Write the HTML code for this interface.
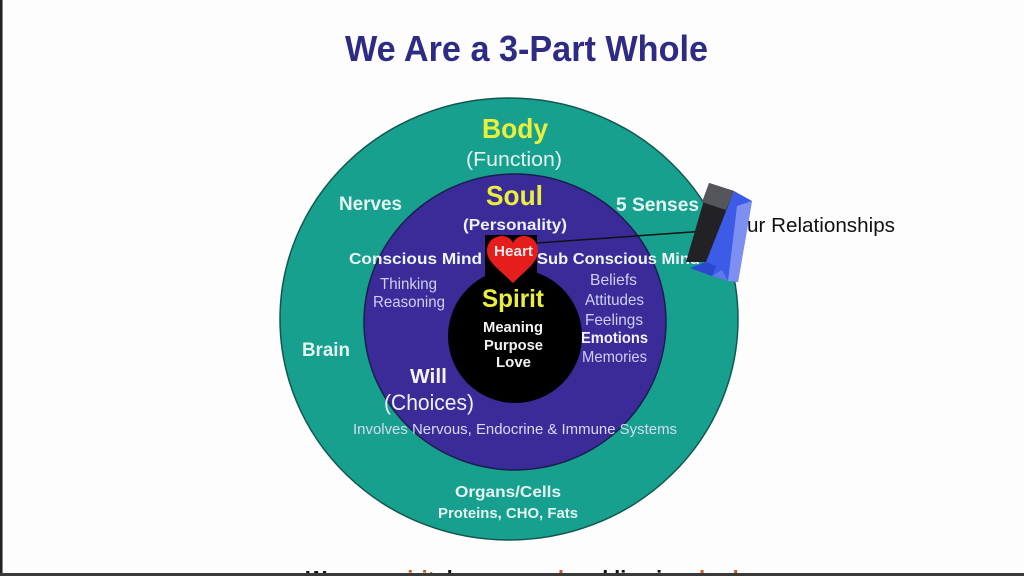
<!DOCTYPE html>
<html>
<head>
<meta charset="utf-8">
<style>
  html,body{margin:0;padding:0;background:#fdfdfd;}
  body{width:1024px;height:576px;overflow:hidden;position:relative;}
  svg{position:absolute;left:0;top:0;}
  text{font-family:"Liberation Sans", Arial, sans-serif;}
</style>
</head>
<body>
<svg width="1024" height="576" viewBox="0 0 1024 576" xmlns="http://www.w3.org/2000/svg">
  <rect x="0" y="0" width="1024" height="576" fill="#fdfdfd"/>
  <rect x="0" y="0" width="2" height="576" fill="#222"/>
  <rect x="2" y="0" width="1" height="576" fill="#888"/>

  <!-- Title -->
  <text x="345" y="61" font-size="36" font-weight="bold" fill="#2e2b85" textLength="363" lengthAdjust="spacingAndGlyphs">We Are a 3-Part Whole</text>

  <!-- Circles -->
  <ellipse cx="509" cy="319" rx="229" ry="221" fill="#17a08e" stroke="#12574f" stroke-width="1.5"/>
  <ellipse cx="515" cy="322" rx="151" ry="148" fill="#3a2b98" stroke="#1b1d4f" stroke-width="1.5"/>
  <circle cx="515" cy="336" r="67" fill="#000"/>
  <rect x="485" y="235" width="52" height="45" fill="#000"/>

  <!-- Heart -->
  <path d="M513,283 C500,270 487,262 487,251 C487,241 495,236 502,236 C508,236 512,240 513,243 C514,240 518,236 524,236 C531,236 538,241 538,251 C538,262 526,270 513,283 Z" fill="#e61d1d"/>
  <text x="494" y="256" font-size="15" font-weight="bold" fill="#f6e8e8" textLength="39" lengthAdjust="spacingAndGlyphs">Heart</text>

  <!-- Body labels -->
  <text x="482" y="138" font-size="28" font-weight="bold" fill="#e9ef3a" textLength="66" lengthAdjust="spacingAndGlyphs">Body</text>
  <text x="466" y="166" font-size="20" fill="#e4f4f1" textLength="96" lengthAdjust="spacingAndGlyphs">(Function)</text>
  <text x="339" y="210" font-size="19" font-weight="bold" fill="#e4f4f1" textLength="63" lengthAdjust="spacingAndGlyphs">Nerves</text>
  <text x="616" y="211" font-size="19" font-weight="bold" fill="#e4f4f1" textLength="83" lengthAdjust="spacingAndGlyphs">5 Senses</text>
  <text x="302" y="356" font-size="19" font-weight="bold" fill="#e4f4f1" textLength="48" lengthAdjust="spacingAndGlyphs">Brain</text>
  <text x="455" y="497" font-size="16" font-weight="bold" fill="#e4f4f1" textLength="106" lengthAdjust="spacingAndGlyphs">Organs/Cells</text>
  <text x="438" y="518" font-size="15" font-weight="bold" fill="#e4f4f1" textLength="140" lengthAdjust="spacingAndGlyphs">Proteins, CHO, Fats</text>

  <!-- Soul labels -->
  <text x="486" y="205" font-size="28" font-weight="bold" fill="#e9ef3a" textLength="57" lengthAdjust="spacingAndGlyphs">Soul</text>
  <text x="463" y="230" font-size="16" font-weight="bold" fill="#eef0fa" textLength="104" lengthAdjust="spacingAndGlyphs">(Personality)</text>
  <text x="349" y="264" font-size="16" font-weight="bold" fill="#eef6f6" textLength="133" lengthAdjust="spacingAndGlyphs">Conscious Mind</text>
  <text x="537" y="264" font-size="16" font-weight="bold" fill="#eef6f6" textLength="163" lengthAdjust="spacingAndGlyphs">Sub Conscious Mind</text>
  <text x="380" y="289" font-size="16" fill="#cdd0f2" textLength="57" lengthAdjust="spacingAndGlyphs">Thinking</text>
  <text x="373" y="307" font-size="16" fill="#cdd0f2" textLength="72" lengthAdjust="spacingAndGlyphs">Reasoning</text>
  <text x="590" y="285" font-size="16" fill="#cdd0f2" textLength="47" lengthAdjust="spacingAndGlyphs">Beliefs</text>
  <text x="585" y="305" font-size="16" fill="#cdd0f2" textLength="59" lengthAdjust="spacingAndGlyphs">Attitudes</text>
  <text x="585" y="325" font-size="16" fill="#cdd0f2" textLength="58" lengthAdjust="spacingAndGlyphs">Feelings</text>
  <text x="581" y="343" font-size="16" font-weight="bold" fill="#f2f2fb" textLength="67" lengthAdjust="spacingAndGlyphs">Emotions</text>
  <text x="582" y="362" font-size="16" fill="#cdd0f2" textLength="65" lengthAdjust="spacingAndGlyphs">Memories</text>
  <text x="410" y="383" font-size="20" font-weight="bold" fill="#f4f4fb" textLength="37" lengthAdjust="spacingAndGlyphs">Will</text>
  <text x="384" y="410" font-size="22" fill="#eef0fa" textLength="90" lengthAdjust="spacingAndGlyphs">(Choices)</text>
  <text x="353" y="434" font-size="15" fill="#d6dcf0" textLength="324" lengthAdjust="spacingAndGlyphs">Involves Nervous, Endocrine &amp; Immune Systems</text>

  <!-- Spirit labels -->
  <text x="482" y="307" font-size="25" font-weight="bold" fill="#e9ef3a" textLength="62" lengthAdjust="spacingAndGlyphs">Spirit</text>
  <text x="483" y="332" font-size="15" font-weight="bold" fill="#f2f2f2" textLength="60" lengthAdjust="spacingAndGlyphs">Meaning</text>
  <text x="484" y="350" font-size="15" font-weight="bold" fill="#f2f2f2" textLength="59" lengthAdjust="spacingAndGlyphs">Purpose</text>
  <text x="496" y="367" font-size="15" font-weight="bold" fill="#f2f2f2" textLength="35" lengthAdjust="spacingAndGlyphs">Love</text>

  <!-- connector line -->
  <line x1="537" y1="243" x2="706" y2="231" stroke="#111" stroke-width="1.5"/>

  <!-- blue 3D shape -->
  <polygon points="709,183 734,191 708,262 686,262 690,248" fill="#222226"/>
  <polygon points="709,183 734,191 726,210 702,202" fill="#55555c"/>
  <polygon points="734,191 752,201 738,282 728,281 712,276 690,268 706,262" fill="#3c5be6"/>
  <polygon points="737,206 752,201 738,282 728,281" fill="#7d8ff0"/>
  <polygon points="706,262 690,268 712,276 716,266" fill="#2c48cf"/>
  <polygon points="712,276 728,281 722,270" fill="#5f78ea"/>

  <text x="747" y="232" font-size="20" fill="#111" textLength="148" lengthAdjust="spacingAndGlyphs">ur Relationships</text>

  <!-- bottom partially visible sentence -->
  <text x="306" y="589" font-size="26" font-weight="bold" fill="#111" textLength="449" lengthAdjust="spacingAndGlyphs">We are <tspan fill="#d2581c">spirit</tspan>, have a <tspan fill="#d2581c">soul</tspan> and live in a <tspan fill="#d2581c">body</tspan>.</text>
  <rect x="0" y="573" width="1024" height="3" fill="#3a3a3a"/>
</svg>
</body>
</html>
